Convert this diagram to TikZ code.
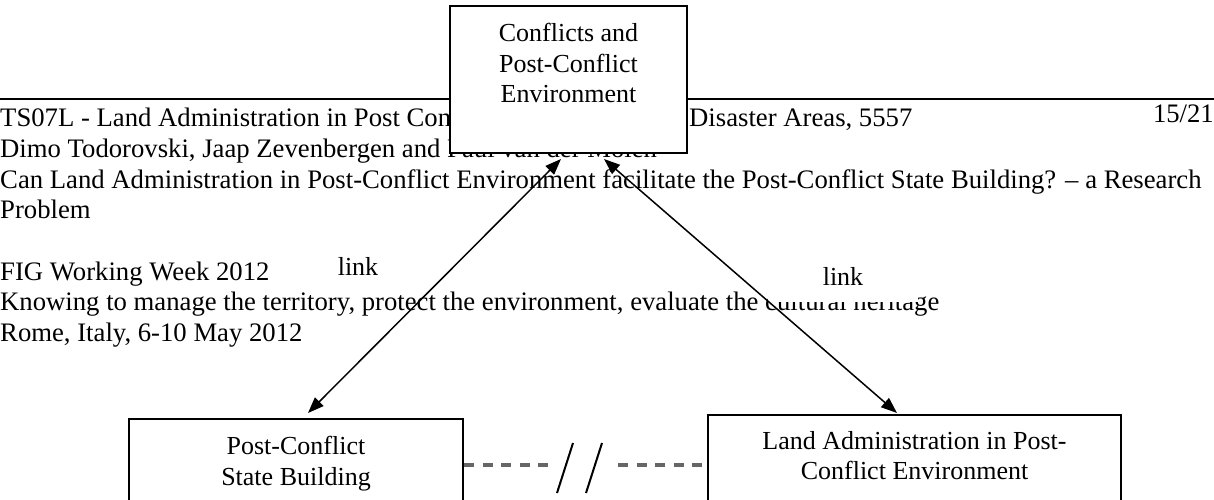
\documentclass[tikz,border=0pt]{standalone}
\usepackage{fontspec}
\setmainfont{Liberation Serif}
\usetikzlibrary{arrows.meta}
\tikzset{
  pagetext/.style={anchor=base west, inner sep=0pt, font=\fontsize{26.7}{30.5}\selectfont},
  panel/.style={draw, fill=white, line width=2pt, inner sep=0pt, anchor=north},
  paneltext/.style={anchor=north, align=center, inner sep=0pt},
  linklabel/.style={fill=white, minimum width=150pt, inner xsep=0pt, inner ysep=17pt, anchor=base},
  linkarrow/.style={line width=1.5pt, {Triangle[length=16pt,width=12pt]}-{Triangle[length=16pt,width=12pt]}},
  gapline/.style={draw=black!60, line width=3.4pt, dash pattern=on 10pt off 8.5pt},
}
\begin{document}
\begin{tikzpicture}[x=1pt, y=-1pt, font=\fontsize{26}{30.5}\selectfont]
  \useasboundingbox (0,0) rectangle (1214,500);
  \clip (0,0) rectangle (1214,500);
  % page footer
  \draw[line width=2.2pt] (0,99) -- (1214,99);
  \node[pagetext] (session) at (0,127) {TS07L - Land Administration in Post Conflict};
  \node[pagetext] (areas) at (689,127) {Disaster Areas, 5557};
  \node[pagetext, anchor=base east] (page) at (1214,122) {15/21};
  \node[pagetext] (authors) at (0,157.6) {Dimo Todorovski, Jaap Zevenbergen and Paul van der Molen};
  \node[pagetext] (title) at (0,188.2) {Can Land Administration in Post-Conflict Environment facilitate the Post-Conflict State Building? -- a Research};
  \node[pagetext] (title2) at (0,218.8) {Problem};
  \node[pagetext] (week) at (0,280) {FIG Working Week 2012};
  \node[pagetext] (motto) at (0,310.6) {Knowing to manage the territory, protect the environment, evaluate the cultural heritage};
  \node[pagetext] (place) at (0,341.2) {Rome, Italy, 6-10 May 2012};
  % labels
  \node[linklabel] (linkleft) at (358,275) {link};
  \node[linklabel] (linkright) at (843,285) {link};
  % boxes
  \node[panel, minimum width=237pt, minimum height=147pt] (conflicts) at (568.5,5) {};
  \node[paneltext] (conflictstext) at (568.5,23.2) {Conflicts and\\Post-Conflict\\Environment};
  \node[panel, minimum width=334pt, minimum height=120pt] (statebuilding) at (296,418) {};
  \node[paneltext] (statetext) at (296,436) {Post-Conflict\\State Building};
  \node[panel, minimum width=413pt, minimum height=120pt] (landadmin) at (914.5,414) {};
  \node[paneltext] (landtext) at (914.5,431) {Land Administration in Post-\\Conflict Environment};
  % links
  \draw[linkarrow] ([shift={(-7.5,5)}]conflicts.south) -- ([shift={(12,-5)}]statebuilding.north);
  \draw[linkarrow] ([shift={(35.5,5)}]conflicts.south) -- ([shift={(-17.5,-1)}]landadmin.north);
  % broken link
  \coordinate (gapleft) at (548,465);
  \coordinate (gapright) at (618,465);
  \draw[gapline] (statebuilding.east |- gapleft) -- (gapleft);
  \draw[gapline] (gapright) -- (landadmin.west |- gapright);
  \draw[line width=2pt] (557,493) -- (573,443);
  \draw[line width=2pt] (586,493) -- (602,443);
\end{tikzpicture}
\end{document}
